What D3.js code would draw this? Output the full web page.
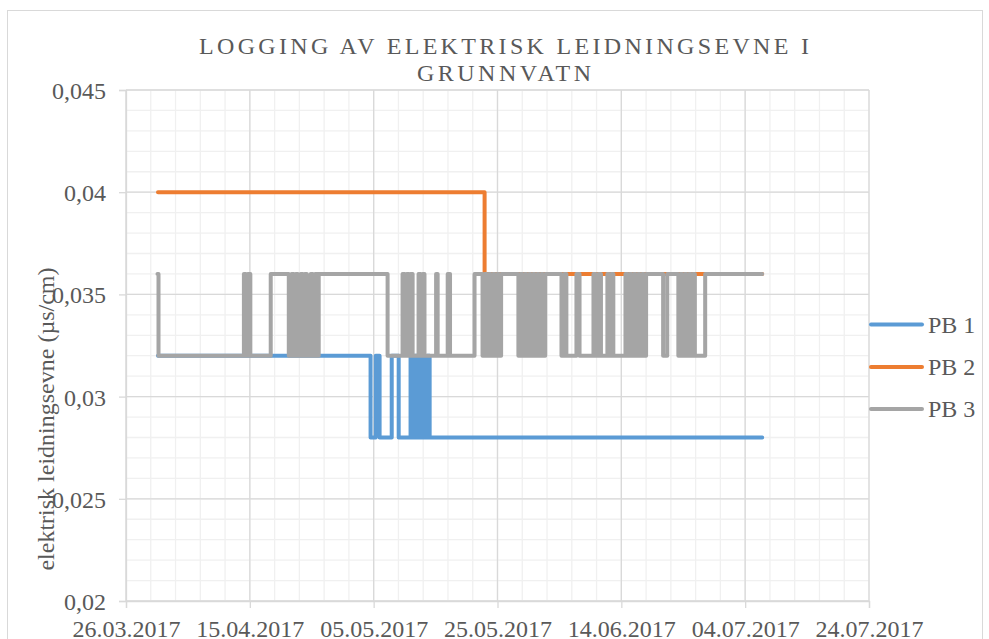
<!DOCTYPE html>
<html>
<head>
<meta charset="utf-8">
<script src="https://cdn.jsdelivr.net/npm/d3@7"></script>
<style>
  html, body { margin: 0; padding: 0; background: #fff; }
  svg { display: block; font-family: "Liberation Serif", "Times New Roman", serif; }
</style>
</head>
<body>
<svg id="chart" width="989" height="639"></svg>
<script>
// ---------- DATA ----------
const titleLines = ["LOGGING AV ELEKTRISK LEIDNINGSEVNE I", "GRUNNVATN"];
const yAxisTitle = "elektrisk leidningsevne (µs/cm)";
const seriesNames = ["PB 1", "PB 2", "PB 3"];
const seriesColors = ["#5B9BD5", "#ED7D31", "#A5A5A5"];

const xTickLabels = ["26.03.2017", "15.04.2017", "05.05.2017", "25.05.2017", "14.06.2017", "04.07.2017", "24.07.2017"];
const yTickValues = [0.02, 0.025, 0.03, 0.035, 0.04, 0.045];
const yTickLabels = ["0,02", "0,025", "0,03", "0,035", "0,04", "0,045"];

// step series: [time of change, value from that time on]
const pb1 = [
  ["2017-03-31 04:00", 0.032],
  ["2017-05-04 12:00", 0.028],
  ["2017-05-05 08:00", 0.032],
  ["2017-05-05 23:00", 0.028],
  ["2017-05-07 22:00", 0.032],
  ["2017-05-09 01:00", 0.028],
  ["2017-05-10 23:00", 0.032],
  ["2017-05-11 07:00", 0.028],
  ["2017-05-11 15:00", 0.032],
  ["2017-05-11 23:00", 0.028],
  ["2017-05-12 07:00", 0.032],
  ["2017-05-12 15:00", 0.028],
  ["2017-05-12 23:00", 0.032],
  ["2017-05-13 07:00", 0.028],
  ["2017-05-13 15:00", 0.032],
  ["2017-05-14 01:00", 0.028],
  ["2017-07-06 18:00", 0.028]
];

const pb2 = [
  ["2017-03-31 04:00", 0.040],
  ["2017-05-22 22:00", 0.036],
  ["2017-07-06 18:00", 0.036]
];

const pb3 = [
  ["2017-03-31 02:00", 0.036],
  ["2017-03-31 06:00", 0.032],
  ["2017-04-14 01:00", 0.036],
  ["2017-04-14 08:00", 0.032],
  ["2017-04-14 16:00", 0.036],
  ["2017-04-15 02:00", 0.032],
  ["2017-04-18 09:00", 0.036],
  ["2017-04-21 07:00", 0.032],
  ["2017-04-21 18:00", 0.036],
  ["2017-04-22 02:00", 0.032],
  ["2017-04-22 10:00", 0.036],
  ["2017-04-22 18:00", 0.032],
  ["2017-04-23 05:00", 0.036],
  ["2017-04-23 13:00", 0.032],
  ["2017-04-23 21:00", 0.036],
  ["2017-04-24 05:00", 0.032],
  ["2017-04-24 20:00", 0.036],
  ["2017-04-25 04:00", 0.032],
  ["2017-04-25 13:00", 0.036],
  ["2017-04-25 21:00", 0.032],
  ["2017-04-26 03:00", 0.036],
  ["2017-05-07 06:00", 0.032],
  ["2017-05-09 16:00", 0.036],
  ["2017-05-10 00:00", 0.032],
  ["2017-05-10 08:00", 0.036],
  ["2017-05-10 16:00", 0.032],
  ["2017-05-10 23:00", 0.036],
  ["2017-05-11 07:00", 0.032],
  ["2017-05-12 06:00", 0.036],
  ["2017-05-12 14:00", 0.032],
  ["2017-05-12 22:00", 0.036],
  ["2017-05-13 05:00", 0.032],
  ["2017-05-15 02:00", 0.036],
  ["2017-05-15 08:00", 0.032],
  ["2017-05-16 23:00", 0.036],
  ["2017-05-17 08:00", 0.032],
  ["2017-05-21 07:00", 0.036],
  ["2017-05-22 14:00", 0.032],
  ["2017-05-22 22:00", 0.036],
  ["2017-05-23 06:00", 0.032],
  ["2017-05-23 14:00", 0.036],
  ["2017-05-23 22:00", 0.032],
  ["2017-05-24 06:00", 0.036],
  ["2017-05-24 14:00", 0.032],
  ["2017-05-24 22:00", 0.036],
  ["2017-05-25 06:00", 0.032],
  ["2017-05-25 14:00", 0.036],
  ["2017-05-28 09:00", 0.032],
  ["2017-05-28 17:00", 0.036],
  ["2017-05-29 01:00", 0.032],
  ["2017-05-29 09:00", 0.036],
  ["2017-05-29 17:00", 0.032],
  ["2017-05-30 01:00", 0.036],
  ["2017-05-30 09:00", 0.032],
  ["2017-05-30 17:00", 0.036],
  ["2017-05-31 01:00", 0.032],
  ["2017-05-31 09:00", 0.036],
  ["2017-05-31 17:00", 0.032],
  ["2017-06-01 01:00", 0.036],
  ["2017-06-01 09:00", 0.032],
  ["2017-06-01 17:00", 0.036],
  ["2017-06-04 08:00", 0.032],
  ["2017-06-04 18:00", 0.036],
  ["2017-06-05 03:00", 0.032],
  ["2017-06-06 18:00", 0.036],
  ["2017-06-07 06:00", 0.032],
  ["2017-06-09 12:00", 0.036],
  ["2017-06-09 21:00", 0.032],
  ["2017-06-10 07:00", 0.036],
  ["2017-06-10 17:00", 0.032],
  ["2017-06-11 18:00", 0.036],
  ["2017-06-12 01:00", 0.032],
  ["2017-06-12 09:00", 0.036],
  ["2017-06-12 17:00", 0.032],
  ["2017-06-14 16:00", 0.036],
  ["2017-06-15 00:00", 0.032],
  ["2017-06-15 08:00", 0.036],
  ["2017-06-15 16:00", 0.032],
  ["2017-06-16 00:00", 0.036],
  ["2017-06-16 08:00", 0.032],
  ["2017-06-16 16:00", 0.036],
  ["2017-06-17 00:00", 0.032],
  ["2017-06-17 08:00", 0.036],
  ["2017-06-17 16:00", 0.032],
  ["2017-06-18 00:00", 0.036],
  ["2017-06-20 18:00", 0.032],
  ["2017-06-21 10:00", 0.036],
  ["2017-06-23 05:00", 0.032],
  ["2017-06-23 13:00", 0.036],
  ["2017-06-23 21:00", 0.032],
  ["2017-06-24 05:00", 0.036],
  ["2017-06-24 13:00", 0.032],
  ["2017-06-24 21:00", 0.036],
  ["2017-06-25 05:00", 0.032],
  ["2017-06-25 13:00", 0.036],
  ["2017-06-25 21:00", 0.032],
  ["2017-06-27 13:00", 0.036],
  ["2017-07-06 18:00", 0.036]
];

// ---------- CHART ----------
const svg = d3.select("#chart");
const W = 989, H = 639;
const margin = { left: 126, right: 120, top: 90, bottom: 38 };
const textColor = "#595959";
const fontSize = 24;

const parseTick = d3.timeParse("%d.%m.%Y");
const parseTime = d3.timeParse("%Y-%m-%d %H:%M");
const xTickDates = xTickLabels.map(parseTick);

const x = d3.scaleTime()
  .domain([xTickDates[0], xTickDates[xTickDates.length - 1]])
  .range([margin.left, W - margin.right]);
const y = d3.scaleLinear()
  .domain([yTickValues[0], yTickValues[yTickValues.length - 1]])
  .range([H - margin.bottom, margin.top]);

// chart frame
svg.append("rect")
  .attr("x", 7.5).attr("y", 10.5)
  .attr("width", 975).attr("height", 660)
  .attr("fill", "#fff").attr("stroke", "#d9d9d9").attr("stroke-width", 1);

// minor gridlines
const minorX = d3.range(0, 31).map(i => d3.timeDay.offset(xTickDates[0], i * 4));
const minorY = y.ticks(25);
const grid = svg.append("g");
grid.selectAll(".mx").data(minorX).join("line")
  .attr("x1", d => x(d)).attr("x2", d => x(d))
  .attr("y1", y.range()[0]).attr("y2", y.range()[1])
  .attr("stroke", "#f0f0f0").attr("stroke-width", 1.3);
grid.selectAll(".my").data(minorY).join("line")
  .attr("x1", x.range()[0]).attr("x2", x.range()[1])
  .attr("y1", d => y(d)).attr("y2", d => y(d))
  .attr("stroke", "#f0f0f0").attr("stroke-width", 1.3);
// major gridlines
grid.selectAll(".Mx").data(xTickDates).join("line")
  .attr("x1", d => x(d)).attr("x2", d => x(d))
  .attr("y1", y.range()[0]).attr("y2", y.range()[1])
  .attr("stroke", "#d9d9d9").attr("stroke-width", 1.3);
grid.selectAll(".My").data(yTickValues).join("line")
  .attr("x1", x.range()[0]).attr("x2", x.range()[1])
  .attr("y1", d => y(d)).attr("y2", d => y(d))
  .attr("stroke", "#d9d9d9").attr("stroke-width", 1.3);

// axes
const yAxis = d3.axisLeft(y)
  .tickValues(yTickValues)
  .tickFormat((d, i) => yTickLabels[i])
  .tickSizeOuter(0).tickSize(7).tickPadding(13);
const gy = svg.append("g").attr("transform", `translate(${margin.left},0)`).call(yAxis);

const xAxis = d3.axisBottom(x)
  .tickValues(xTickDates)
  .tickFormat((d, i) => xTickLabels[i])
  .tickSizeOuter(0).tickSize(7).tickPadding(12);
const gx = svg.append("g").attr("transform", `translate(0,${H - margin.bottom})`).call(xAxis);

[gx, gy].forEach(g => {
  g.select(".domain").attr("stroke", "#d9d9d9").attr("stroke-width", 1.3);
  g.selectAll(".tick line").attr("stroke", "#d9d9d9").attr("stroke-width", 1.3);
  g.selectAll(".tick text")
    .attr("fill", textColor)
    .style("font-family", '"Liberation Serif", "Times New Roman", serif')
    .style("font-size", fontSize + "px");
});
gy.selectAll(".tick text").attr("dy", "0.35em");

// series lines
const allSeries = [pb1, pb2, pb3].map(s => s.map(([t, v]) => ({ t: parseTime(t), v })));
const line = d3.line()
  .x(d => x(d.t)).y(d => y(d.v))
  .curve(d3.curveStepAfter);
svg.append("g").selectAll("path").data(allSeries).join("path")
  .attr("d", line)
  .attr("fill", "none")
  .attr("stroke", (d, i) => seriesColors[i])
  .attr("stroke-width", 4)
  .attr("stroke-linejoin", "round")
  .attr("stroke-linecap", "round");

// title
const title = svg.append("g").attr("fill", textColor)
  .style("font-size", fontSize + "px");
const titleWidths = [610, 174];
const titleBaselines = [53.5, 80.7];
titleLines.forEach((t, i) => {
  title.append("text")
    .attr("x", 504).attr("y", titleBaselines[i])
    .attr("text-anchor", "middle")
    .attr("textLength", titleWidths[i])
    .attr("lengthAdjust", "spacing")
    .text(t);
});

// y-axis title
svg.append("text")
  .attr("transform", "translate(46,419) rotate(-90)")
  .attr("text-anchor", "middle")
  .attr("dy", "0.35em")
  .attr("fill", textColor)
  .style("font-size", fontSize + "px")
  .text(yAxisTitle);

// legend
const legendY = [324.5, 367, 409];
const legend = svg.append("g");
seriesNames.forEach((name, i) => {
  legend.append("line")
    .attr("x1", 871).attr("x2", 922)
    .attr("y1", legendY[i]).attr("y2", legendY[i])
    .attr("stroke", seriesColors[i]).attr("stroke-width", 4)
    .attr("stroke-linecap", "round");
  legend.append("text")
    .attr("x", 928).attr("y", legendY[i])
    .attr("dy", "0.35em")
    .attr("fill", textColor)
    .style("font-size", fontSize + "px")
    .text(name);
});
</script>
</body>
</html>
